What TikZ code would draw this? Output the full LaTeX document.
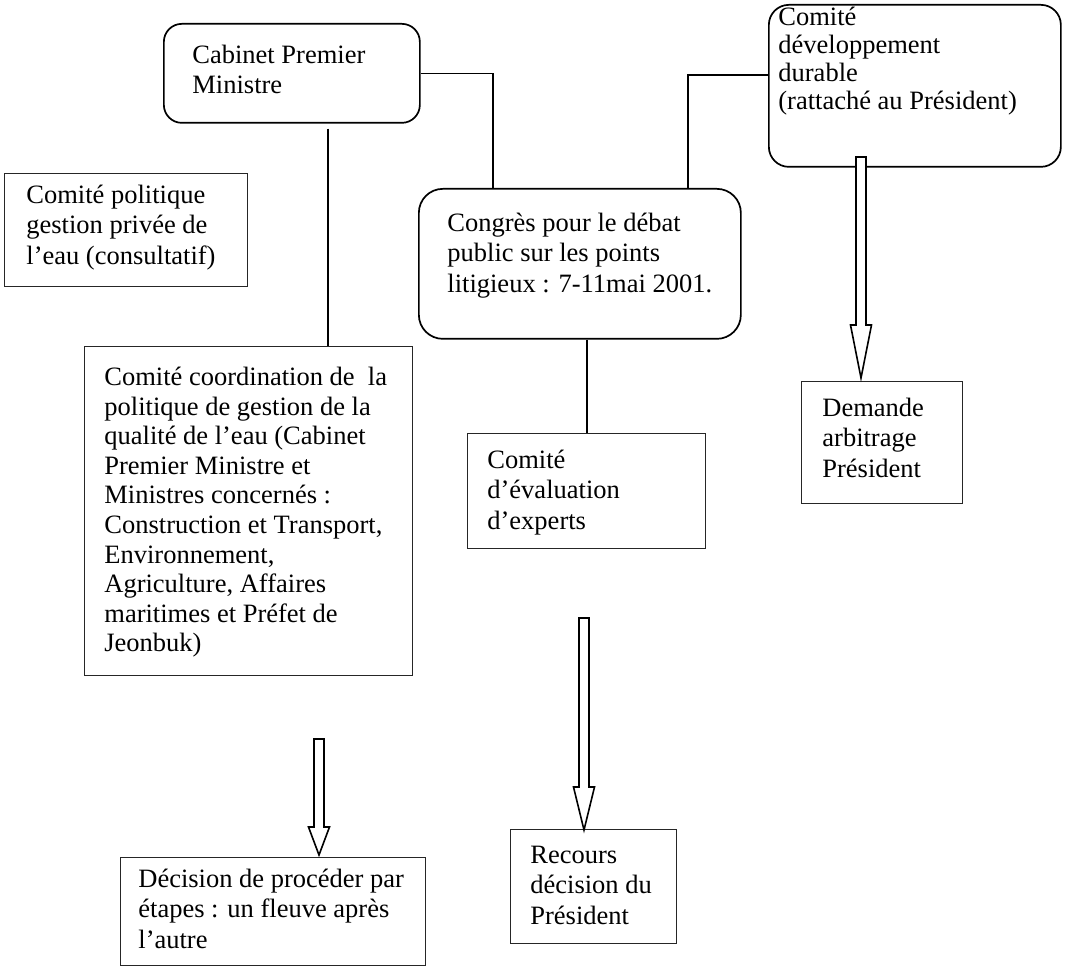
\documentclass[tikz,border=0pt]{standalone}
\usepackage{fontspec}
\setmainfont{Liberation Serif}
\usetikzlibrary{calc}
\newcommand\hollowarrow[4]{% x, top, head start, tip
  \draw[blockarrow] ({#1-5},#2) -- ({#1+5},#2) -- ({#1+5},#3) -- ({#1+10.5},#3)
    -- (#1,#4) -- ({#1-10.5},#3) -- ({#1-5},#3) -- cycle;}
\begin{document}
\begin{tikzpicture}[x=0.5pt,y=-0.5pt,
  box/.style={draw=black!85, line width=0.7pt, inner sep=0pt, anchor=north west},
  rbox/.style={draw=black, line width=0.85pt, inner sep=0pt, anchor=north west, rounded corners=9pt},
  txt/.style={anchor=north west, inner sep=0pt, align=left, font=\fontsize{13.25}{15.25}\selectfont},
  conn/.style={line width=0.8pt},
  blockarrow/.style={draw=black, fill=white, line width=0.8pt, line join=miter}]
\useasboundingbox (0,0) rectangle (1081,967);

% boxes
\node[rbox, minimum width=128pt, minimum height=49.5pt] (cab) at (163,23) {};
\node[rbox, minimum width=146pt, minimum height=81pt, rounded corners=10pt] (dev) at (768,4) {};
\node[box, minimum width=121.5pt, minimum height=56.5pt] (pol) at (4,173) {};
\node[rbox, minimum width=161pt, minimum height=75pt, rounded corners=12pt] (cong) at (418,188) {};
\node[box, minimum width=164pt, minimum height=164.5pt] (coord) at (84,346) {};
\node[box, minimum width=119pt, minimum height=57.5pt] (eval) at (467,433) {};
\node[box, minimum width=80.5pt, minimum height=61pt] (dem) at (801,381) {};
\node[box, minimum width=152.5pt, minimum height=54pt] (dec) at (120,857) {};
\node[box, minimum width=83pt, minimum height=57pt] (rec) at (510,829) {};

% texts
\node[txt] (tcab) at (192,41.65) {\strut Cabinet Premier\\Ministre};
\node[txt, font=\fontsize{13.25}{14}\selectfont] (tdev) at (778,5.4) {\strut Comité\\développement\\durable\\(rattaché au Président)};
\node[txt] (tpol) at (26,181.65) {\strut Comité politique\\gestion privée de\\l’eau (consultatif)};
\node[txt] (tcong) at (447,209.65) {\strut Congrès pour le débat\\public sur les points\\litigieux : 7-11mai 2001.};
\node[txt, font=\fontsize{13.25}{14.8}\selectfont] (tcoord) at (104,364.3) {\strut Comité coordination de \ la\\politique de gestion de la\\qualité de l’eau (Cabinet\\Premier Ministre et\\Ministres concernés :\\Construction et Transport,\\Environnement,\\Agriculture, Affaires\\maritimes et Préfet de\\Jeonbuk)};
\node[txt] (teval) at (487,446.65) {\strut Comité\\d’évaluation\\d’experts};
\node[txt] (tdem) at (822,394.65) {\strut Demande\\arbitrage\\Président};
\node[txt] (tdec) at (138,865.65) {\strut Décision de procéder par\\étapes : un fleuve après\\l’autre};
\node[txt] (trec) at (530,841.65) {\strut Recours\\décision du\\Président};

% connectors
\draw[conn] (cab.east) -| ($(cong.north west)+(75,0)$);
\draw[conn] ($(dev.west)+(0,-11)$) -| ($(cong.north west)+(270,0)$);
\coordinate (cabdown) at ($(cab.south)+(36,5)$);
\draw[conn] (cabdown) -- (cabdown |- coord.north);
\coordinate (congdown) at ($(cong.south west)+(169,0)$);
\draw[conn] (congdown) -- (congdown |- eval.north);

% block arrows
\hollowarrow{861}{157}{325}{378}
\hollowarrow{584}{618}{787}{830}
\hollowarrow{319}{739}{827}{855}
\end{tikzpicture}
\end{document}
